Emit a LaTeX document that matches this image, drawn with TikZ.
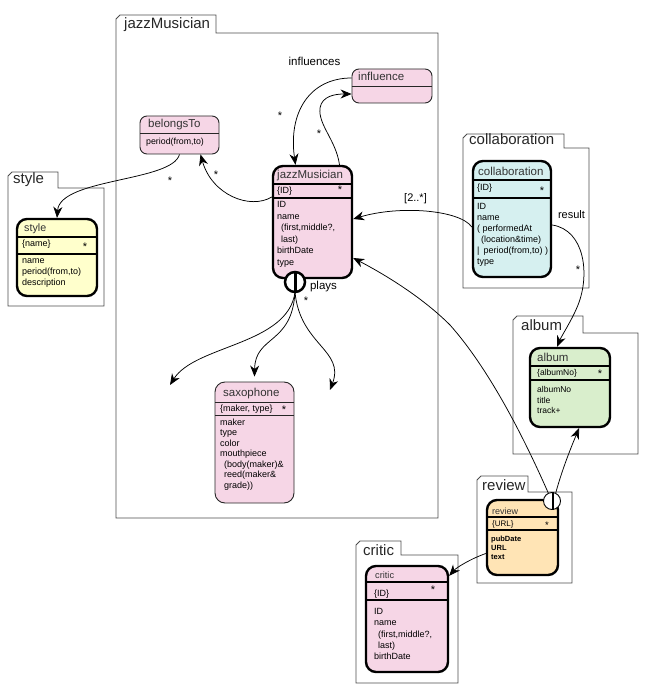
\documentclass[tikz,border=0pt]{standalone}
\usepackage{fontspec}
\setmainfont{Liberation Sans}
\usetikzlibrary{arrows.meta}
\definecolor{pinkF}{RGB}{246,214,230}
\definecolor{yellowF}{RGB}{255,255,204}
\definecolor{cyanF}{RGB}{214,240,240}
\definecolor{greenF}{RGB}{217,238,204}
\definecolor{orangeF}{RGB}{255,228,181}
\newcommand\fs[2]{\fontsize{#1}{#2}\selectfont}
\newcommand\rows[1]{\vtop{\halign{##\hfil\cr #1\crcr}}}
\newcommand\pkgbox[6]{\draw[pkgline] (#1,#6) -- (#1,{#2+4}) -- ({#1+4},#2) -- (#3,#2) -- (#3,#4) -- (#5,#4) -- (#5,#6) -- cycle;}
\tikzset{
 pkgline/.style={draw=black!70, line width=0.9pt, line join=miter},
 pkgtitle/.style={anchor=base west, inner sep=0, font=\fs{15}{15}, text=black!85},
 entthick/.style={draw=black, line width=2.4pt, rounded corners=10pt, inner sep=0},
 entthin/.style={draw=black!85, line width=0.9pt, rounded corners=7pt, inner sep=0},
 divthick/.style={draw=black, line width=1.1pt},
 divthin/.style={draw=black!85, line width=0.8pt},
 hdr/.style={anchor=base west, inner sep=0, font=\fs{11.5}{12}, text=black!80},
 keyrow/.style={anchor=base west, inner sep=0, font=\fs{9}{10}},
 att/.style={anchor=base west, inner sep=0, font=\fs{9}{11.5}},
 star/.style={anchor=base, inner sep=0, font=\fs{11}{11}},
 lbl/.style={anchor=base, inner sep=0, font=\fs{11.5}{12}},
 conn/.style={-{Stealth[length=11pt,width=9pt,inset=3.5pt]}, line width=0.75pt},
}
\begin{document}
\begin{tikzpicture}[x=1pt,y=-1pt]
\useasboundingbox (0,0) rectangle (650,700);

% ---------------- packages ----------------
\pkgbox{116}{15}{216}{33}{438}{518}
\node[pkgtitle] (pJ) at (124,29) {jazzMusician};
\pkgbox{8}{172}{58}{188}{104}{306}
\node[pkgtitle] (pS) at (13,184) {style};
\pkgbox{463}{134}{564}{148}{589}{288}
\node[pkgtitle] (pC) at (469,145) {collaboration};
\pkgbox{513}{316}{583}{333}{638}{454}
\node[pkgtitle] (pA) at (521,330) {album};
\pkgbox{477}{476}{528}{492}{572}{583}
\node[pkgtitle] (pR) at (482,490) {review};
\pkgbox{356}{541}{401}{555}{458}{683}
\node[pkgtitle] (pK) at (363,555) {critic};

% ---------------- entities ----------------
% influence
\node[entthin, fill=pinkF, minimum width=80pt, minimum height=34pt] (infl) at (392,86) {};
\draw[divthin] (infl.west) -- (infl.east);
\node[hdr] (inflH) at (358,81) {influence};

% belongsTo
\node[entthin, fill=pinkF, minimum width=79pt, minimum height=38pt] (bt) at (179.5,135) {};
\draw[divthin] (140,133) -- (219,133);
\node[hdr] (btH) at (148,128) {belongsTo};
\node[att, font=\fs{8.8}{11}] (btA) at (146,145) {period(from,to)};

% jazzMusician
\node[entthick, fill=pinkF, minimum width=79pt, minimum height=112pt] (jm) at (312.5,222) {};
\draw[divthick] (273,184) -- (352,184);
\draw[divthick] (273,198) -- (352,198);
\node[hdr] (jmH) at (277,179) {jazzMusician};
\node[keyrow] (jmK) at (277,194) {\{ID\}};
\node[star] (jmS) at (340,193.5) {*};
\node[att] (jmA) at (277,208) {\rows{ID\cr name\cr \hskip4pt(first,middle?,\cr \hskip4pt last)\cr birthDate\cr type}};

% style
\node[entthick, fill=yellowF, minimum width=80pt, minimum height=77pt] (st) at (57,257.5) {};
\draw[divthick] (17,237) -- (97,237);
\draw[divthick] (17,254) -- (97,254);
\node[hdr, font=\fs{10.7}{12}] (stH) at (24,232) {style};
\node[keyrow] (stK) at (22,247) {\{name\}};
\node[star] (stS) at (85,250.5) {*};
\node[att, font=\fs{9}{11}] (stA) at (22,263) {\rows{name\cr period(from,to)\cr description}};

% collaboration
\node[entthick, fill=cyanF, minimum width=78pt, minimum height=116pt] (co) at (512,219) {};
\draw[divthick] (473,180) -- (551,180);
\draw[divthick] (473,198) -- (551,198);
\node[hdr] (coH) at (478,176) {collaboration};
\node[keyrow] (coK) at (477,191) {\{ID\}};
\node[star] (coS) at (542,194.5) {*};
\node[att, font=\fs{9}{11}] (coA) at (477,210) {\rows{ID\cr name\cr ( performedAt\cr \hskip4pt(location\&time)\cr |\hskip4pt period(from,to) )\cr type}};

% album
\node[entthick, fill=greenF, minimum width=80pt, minimum height=79pt] (al) at (570,387.5) {};
\draw[divthick] (530,366) -- (610,366);
\draw[divthick] (530,380) -- (610,380);
\node[hdr] (alH) at (537,361) {album};
\node[keyrow, font=\fs{8.5}{10}] (alK) at (537,375.5) {\{albumNo\}};
\node[star] (alS) at (600,377.5) {*};
\node[att, font=\fs{8.5}{10.5}] (alA) at (537,392.5) {\rows{albumNo\cr title\cr track+}};

% saxophone
\node[entthin, fill=pinkF, minimum width=79pt, minimum height=121pt, rounded corners=10pt] (sx) at (254.5,442.5) {};
\draw[divthin] (215,402) -- (294,402);
\draw[divthin, line width=1pt] (215,415) -- (294,415);
\node[hdr] (sxH) at (223,396) {saxophone};
\node[keyrow] (sxK) at (220,411.5) {\{maker, type\}};
\node[star] (sxS) at (284,413.5) {*};
\node[att, font=\fs{9}{10.5}] (sxA) at (220,425) {\rows{maker\cr type\cr color\cr mouthpiece\cr \hskip4pt(body(maker)\&\cr \hskip4pt reed(maker\&\cr \hskip4pt grade))}};

% review
\node[entthick, fill=orangeF, minimum width=71pt, minimum height=75pt] (rv) at (522.5,537.5) {};
\draw[divthick] (487,517) -- (558,517);
\draw[divthick] (487,530) -- (558,530);
\node[hdr, font=\fs{9}{10}] (rvH) at (492,514) {review};
\node[keyrow, font=\fs{8}{9}] (rvK) at (492,526) {\{URL\}};
\node[star, font=\fs{9.5}{10}] (rvS) at (547,528) {*};
\node[att, font=\bfseries\fs{7.5}{9.3}] (rvA) at (491,541) {\rows{pubDate\cr URL\cr text}};

% critic
\node[entthick, fill=pinkF, minimum width=82pt, minimum height=106pt] (cr) at (407,619) {};
\draw[divthick] (366,582) -- (448,582);
\draw[divthick] (366,600) -- (448,600);
\node[hdr, font=\fs{9.2}{10}] (crH) at (375,578) {critic};
\node[keyrow] (crK) at (374,596) {\{ID\}};
\node[star] (crS) at (433,593.5) {*};
\node[att, font=\fs{9}{11.3}] (crA) at (374,614.5) {\rows{ID\cr name\cr \hskip4pt(first,middle?,\cr \hskip4pt last)\cr birthDate}};

% ---------------- circles (positions) ----------------
\node[circle, minimum size=20pt, inner sep=0] (pl) at (295,282) {};
\node[circle, minimum size=17pt, inner sep=0] (rc) at (552,501) {};

% ---------------- connectors ----------------
% influences
\draw[conn] ([yshift=8pt]infl.west) .. controls (310,78) and (288,112) .. ([xshift=-17pt]jm.north);
\draw[conn] ([xshift=27pt]jm.north) .. controls (336,140) and (318,125) .. (320,108) .. controls (322,96) and (335,94) .. ([yshift=-8pt]infl.west);
\node[lbl] (infLbl) at (314.5,66) {influences};
\node[star] (s1) at (280,119.5) {*};
\node[star] (s2) at (319,137.5) {*};

% jazzMusician -> belongsTo
\draw[conn] ([yshift=25pt]jm.west) .. controls (250,210) and (212,195) .. ([xshift=21pt]bt.south);
\node[star] (s3) at (216,178.5) {*};
% belongsTo -> style
\draw[conn] (bt.south) .. controls (172,182) and (60,178) .. (st.north);
\node[star] (s4) at (170,184.5) {*};

% collaboration -> jazzMusician
\draw[conn] ([yshift=-8pt]co.west) .. controls (460,210) and (400,205) .. ([yshift=3pt]jm.east);
\node[lbl, font=\fs{11}{12}] (lb2) at (415.5,202) {[2..*]};

% collaboration -> album
\draw[conn] ([yshift=-6pt]co.east) .. controls (585,230) and (590,275) .. (578,305) .. controls (572,320) and (562,335) .. ([xshift=-13pt]al.north);
\node[lbl, font=\fs{11}{12}] (res) at (571.5,219) {result};
\node[star] (s5) at (578,273.5) {*};

% review -> jazzMusician
\draw[conn] (rc.115) .. controls (525,440) and (490,370) .. (450,325) .. controls (420,295) and (380,272) .. ([yshift=-36pt]jm.east);
% review -> album
\draw[conn] (rc.65) .. controls (562,470) and (570,450) .. ([xshift=9pt]al.south);
% review -> critic
\draw[conn] ([yshift=-16pt]rv.west) .. controls (470,559) and (456,568) .. ([yshift=-11pt]cr.north east);

% plays
\coordinate (pLeft) at (170,385);
\coordinate (pRight) at (330,390);
\draw[conn] (pl.south) .. controls (288,345) and (195,345) .. (pLeft);
\draw[conn] (pl.south) .. controls (292,345) and (255,335) .. ([yshift=5pt]sx.north);
\draw[conn] (pl.south) .. controls (300,345) and (345,350) .. (pRight);
\node[lbl] (plays) at (323.5,289) {plays};
\node[star] (s6) at (306,304.5) {*};

% ---------------- circles on top ----------------
\node[circle, draw, line width=2.5pt, fill=white, minimum size=20pt, inner sep=0] (plC) at (pl) {};
\draw[line width=3pt] (plC.north) -- (plC.south);
\node[circle, draw, line width=0.9pt, fill=white, minimum size=17pt, inner sep=0] (rcC) at (rc) {};
\draw[line width=2.5pt] ([xshift=1pt]rcC.north) -- ([xshift=1pt]rcC.south);
\end{tikzpicture}
\end{document}
